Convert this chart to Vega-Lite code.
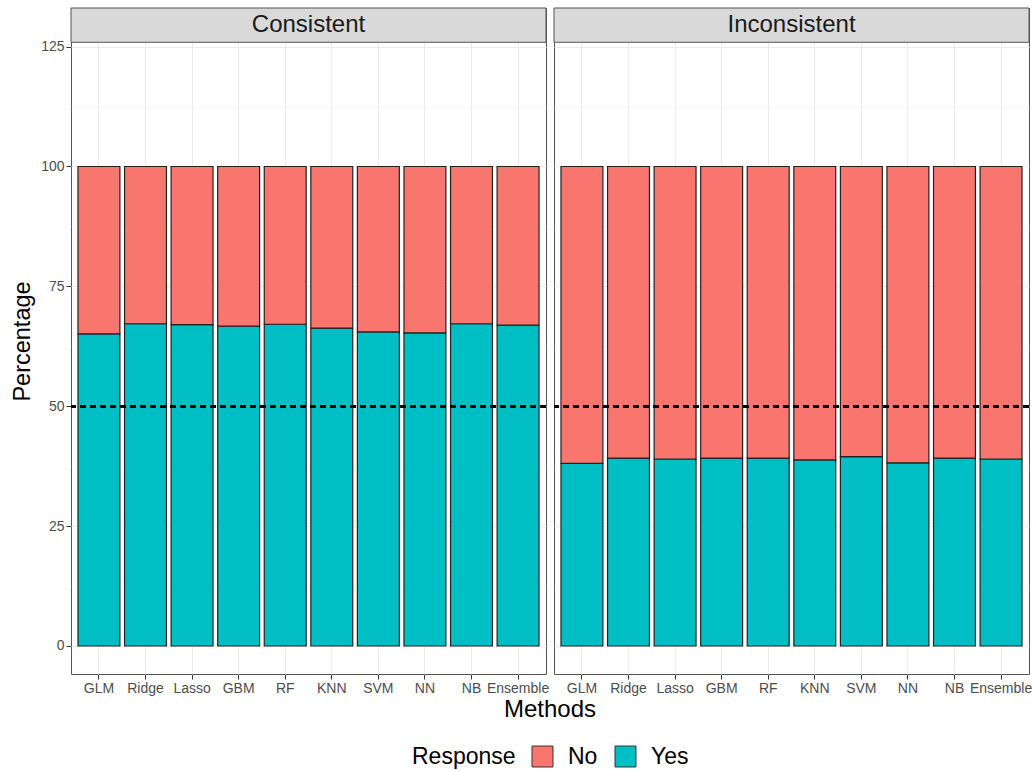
{
  "$schema": "https://vega.github.io/schema/vega-lite/v6.json",
  "background": "white",
  "padding": {"left": 10, "top": 7, "right": 2, "bottom": 2},
  "bounds": "flush",
  "data": {
    "values": [
      {"Group": "Consistent", "Method": "GLM", "Response": "Yes", "Percentage": 65.1},
      {"Group": "Consistent", "Method": "GLM", "Response": "No", "Percentage": 34.9},
      {"Group": "Consistent", "Method": "Ridge", "Response": "Yes", "Percentage": 67.2},
      {"Group": "Consistent", "Method": "Ridge", "Response": "No", "Percentage": 32.8},
      {"Group": "Consistent", "Method": "Lasso", "Response": "Yes", "Percentage": 67.0},
      {"Group": "Consistent", "Method": "Lasso", "Response": "No", "Percentage": 33.0},
      {"Group": "Consistent", "Method": "GBM", "Response": "Yes", "Percentage": 66.7},
      {"Group": "Consistent", "Method": "GBM", "Response": "No", "Percentage": 33.3},
      {"Group": "Consistent", "Method": "RF", "Response": "Yes", "Percentage": 67.1},
      {"Group": "Consistent", "Method": "RF", "Response": "No", "Percentage": 32.9},
      {"Group": "Consistent", "Method": "KNN", "Response": "Yes", "Percentage": 66.3},
      {"Group": "Consistent", "Method": "KNN", "Response": "No", "Percentage": 33.7},
      {"Group": "Consistent", "Method": "SVM", "Response": "Yes", "Percentage": 65.5},
      {"Group": "Consistent", "Method": "SVM", "Response": "No", "Percentage": 34.5},
      {"Group": "Consistent", "Method": "NN", "Response": "Yes", "Percentage": 65.3},
      {"Group": "Consistent", "Method": "NN", "Response": "No", "Percentage": 34.7},
      {"Group": "Consistent", "Method": "NB", "Response": "Yes", "Percentage": 67.2},
      {"Group": "Consistent", "Method": "NB", "Response": "No", "Percentage": 32.8},
      {"Group": "Consistent", "Method": "Ensemble", "Response": "Yes", "Percentage": 66.9},
      {"Group": "Consistent", "Method": "Ensemble", "Response": "No", "Percentage": 33.1},
      {"Group": "Inconsistent", "Method": "GLM", "Response": "Yes", "Percentage": 38.1},
      {"Group": "Inconsistent", "Method": "GLM", "Response": "No", "Percentage": 61.9},
      {"Group": "Inconsistent", "Method": "Ridge", "Response": "Yes", "Percentage": 39.2},
      {"Group": "Inconsistent", "Method": "Ridge", "Response": "No", "Percentage": 60.8},
      {"Group": "Inconsistent", "Method": "Lasso", "Response": "Yes", "Percentage": 39.0},
      {"Group": "Inconsistent", "Method": "Lasso", "Response": "No", "Percentage": 61.0},
      {"Group": "Inconsistent", "Method": "GBM", "Response": "Yes", "Percentage": 39.2},
      {"Group": "Inconsistent", "Method": "GBM", "Response": "No", "Percentage": 60.8},
      {"Group": "Inconsistent", "Method": "RF", "Response": "Yes", "Percentage": 39.2},
      {"Group": "Inconsistent", "Method": "RF", "Response": "No", "Percentage": 60.8},
      {"Group": "Inconsistent", "Method": "KNN", "Response": "Yes", "Percentage": 38.8},
      {"Group": "Inconsistent", "Method": "KNN", "Response": "No", "Percentage": 61.2},
      {"Group": "Inconsistent", "Method": "SVM", "Response": "Yes", "Percentage": 39.5},
      {"Group": "Inconsistent", "Method": "SVM", "Response": "No", "Percentage": 60.5},
      {"Group": "Inconsistent", "Method": "NN", "Response": "Yes", "Percentage": 38.2},
      {"Group": "Inconsistent", "Method": "NN", "Response": "No", "Percentage": 61.8},
      {"Group": "Inconsistent", "Method": "NB", "Response": "Yes", "Percentage": 39.2},
      {"Group": "Inconsistent", "Method": "NB", "Response": "No", "Percentage": 60.8},
      {"Group": "Inconsistent", "Method": "Ensemble", "Response": "Yes", "Percentage": 39.0},
      {"Group": "Inconsistent", "Method": "Ensemble", "Response": "No", "Percentage": 61.0}
    ]
  },
  "facet": {
    "column": {
      "field": "Group",
      "type": "nominal",
      "title": "Methods",
      "header": {
        "labels": false,
        "titleOrient": "bottom",
        "titleFont": "Liberation Sans",
        "titleFontSize": 24,
        "titleFontWeight": "normal",
        "titleColor": "#000000",
        "titlePadding": -7
      }
    }
  },
  "spacing": 8,
  "spec": {
    "width": 475,
    "height": 666,
    "layer": [
      {
        "mark": {"type": "bar", "stroke": "#222222", "strokeWidth": 1.2},
        "encoding": {
          "x": {
            "field": "Method",
            "type": "nominal",
            "sort": ["GLM", "Ridge", "Lasso", "GBM", "RF", "KNN", "SVM", "NN", "NB", "Ensemble"],
            "scale": {"paddingInner": 0.1, "paddingOuter": 0.15},
            "title": null,
            "axis": {
              "labelAngle": 0,
              "labelFont": "Liberation Sans",
              "labelFontSize": 14,
              "labelColor": "#4d4d4d",
              "labelPadding": 2,
              "tickColor": "#333333",
              "tickSize": 5,
              "domain": false,
              "grid": true,
              "gridColor": "#ebebeb",
              "gridWidth": 1,
              "bandPosition": 0.5
            }
          },
          "y": {
            "field": "Percentage",
            "type": "quantitative",
            "stack": "zero",
            "scale": {"domain": [-5.84, 133.05], "nice": false, "zero": false},
            "title": "Percentage",
            "axis": {
              "values": [0, 12.5, 25, 37.5, 50, 62.5, 75, 87.5, 100, 112.5, 125],
              "labelExpr": "datum.value % 25 === 0 ? datum.label : ''",
              "labelFont": "Liberation Sans",
              "labelFontSize": 14,
              "labelColor": "#4d4d4d",
              "labelPadding": 2,
              "tickColor": "#333333",
              "tickSize": 5,
              "tickOpacity": {"condition": {"test": "datum.value % 25 === 0", "value": 1}, "value": 0},
              "domain": false,
              "grid": true,
              "gridColor": {"condition": {"test": "datum.value % 25 === 0", "value": "#ebebeb"}, "value": "#f4f4f4"},
              "gridWidth": {"condition": {"test": "datum.value % 25 === 0", "value": 1}, "value": 0.6},
              "titleFont": "Liberation Sans",
              "titleFontSize": 23.5,
              "titleFontWeight": "normal",
              "titleColor": "#000000",
              "titlePadding": 6
            }
          },
          "color": {
            "field": "Response",
            "type": "nominal",
            "scale": {"domain": ["No", "Yes"], "range": ["#F8766D", "#00BFC4"]},
            "legend": {
              "orient": "none",
              "legendX": 341,
              "legendY": 737,
              "direction": "horizontal",
              "title": "Response",
              "titleOrient": "left",
              "titleFont": "Liberation Sans",
              "titleFontSize": 23,
              "titleFontWeight": "normal",
              "titleColor": "#000000",
              "titlePadding": 15,
              "labelFont": "Liberation Sans",
              "labelFontSize": 23,
              "labelColor": "#000000",
              "labelOffset": 14,
              "symbolType": "square",
              "symbolSize": 440,
              "symbolStrokeColor": "#333333",
              "symbolStrokeWidth": 1,
              "symbolOpacity": 1,
              "columnPadding": 15
            }
          },
          "order": {"field": "Response", "sort": "descending"}
        }
      },
      {
        "mark": {"type": "rule", "strokeDash": [6, 4], "strokeWidth": 1.8, "color": "#000000"},
        "encoding": {"y": {"datum": 50, "type": "quantitative"}}
      },
      {
        "transform": [{"filter": "datum.Method === 'GLM' && datum.Response === 'Yes'"}],
        "mark": {"type": "rect", "fill": "#d9d9d9", "stroke": "#555555", "strokeWidth": 1},
        "encoding": {
          "y": {"datum": 125.9, "type": "quantitative"},
          "y2": {"datum": 133.05}
        }
      },
      {
        "transform": [{"filter": "datum.Method === 'GLM' && datum.Response === 'Yes'"}],
        "mark": {"type": "text", "font": "Liberation Sans", "fontSize": 24, "color": "#1a1a1a", "baseline": "middle", "align": "center"},
        "encoding": {
          "y": {"datum": 129.5, "type": "quantitative"},
          "text": {"field": "Group"}
        }
      }
    ]
  },
  "config": {
    "view": {"stroke": "#555555", "strokeWidth": 1}
  }
}
